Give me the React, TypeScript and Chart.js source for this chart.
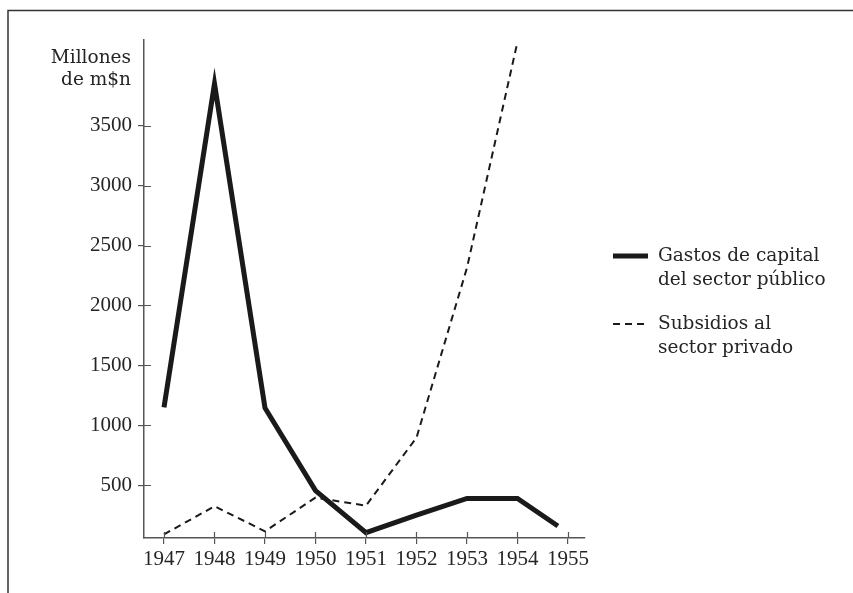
import React, { useEffect, useRef } from "react";
import { Chart, registerables } from "chart.js";

Chart.register(...registerables);

const years = [1947, 1948, 1949, 1950, 1951, 1952, 1953, 1954, 1955];
const publicYears = [1947, 1948, 1949, 1950, 1951, 1952, 1953, 1954, 1954.8];
const publicCapital = [1150, 3850, 1145, 455, 105, 250, 390, 390, 160];
const subsidyYears = [1947, 1948, 1949, 1950, 1951, 1952, 1953, 1954];
const privateSubsidies = [90, 325, 116, 397, 330, 897, 2315, 4200];
const yTicks = [500, 1000, 1500, 2000, 2500, 3000, 3500];
const yTitle = ["Millones", "de m$n"];
const legendItems = [
  { lines: ["Gastos de capital", "del sector público"], dashed: false },
  { lines: ["Subsidios al", "sector privado"], dashed: true },
];

const FONT = "'DejaVu Serif', serif";
const NUMFONT = "'Liberation Serif', serif";
const TEXT = "#252525";
const AXIS = "#555";

export default function App() {
  const ref = useRef<HTMLCanvasElement>(null);
  useEffect(() => {
    const canvas = ref.current!;
    const decor = {
      id: "decor",
      afterDraw(chart: any) {
        const ctx = chart.ctx;
        ctx.save();
        // frame
        ctx.strokeStyle = "#333";
        ctx.lineWidth = 1.5;
        ctx.beginPath();
        ctx.moveTo(8, 593);
        ctx.lineTo(8, 10.5);
        ctx.lineTo(853, 10.5);
        ctx.stroke();
        // inner tick parts
        const xs = chart.scales.x;
        const ys = chart.scales.y;
        const area = chart.chartArea;
        ctx.strokeStyle = AXIS;
        ctx.lineWidth = 1.2;
        ctx.beginPath();
        xs.ticks.forEach((t: any) => {
          const px = Math.round(xs.getPixelForValue(t.value)) + 0.5;
          ctx.moveTo(px, area.bottom);
          ctx.lineTo(px, area.bottom - 6);
        });
        ys.ticks.forEach((t: any) => {
          const py = Math.round(ys.getPixelForValue(t.value)) + 0.5;
          ctx.moveTo(area.left, py);
          ctx.lineTo(area.left + 7, py);
        });
        ctx.stroke();
        // y title
        ctx.fillStyle = TEXT;
        ctx.font = "18.5px " + FONT;
        ctx.textAlign = "right";
        ctx.textBaseline = "middle";
        ctx.fillText(yTitle[0], 131, 58);
        ctx.fillText(yTitle[1], 131, 80);
        // legend
        ctx.textAlign = "left";
        legendItems.forEach((item, i) => {
          const y0 = 256 + i * 68;
          ctx.strokeStyle = "#1a1a1a";
          if (item.dashed) {
            ctx.lineWidth = 2;
            ctx.setLineDash([7, 5]);
          } else {
            ctx.lineWidth = 5;
            ctx.setLineDash([]);
          }
          ctx.beginPath();
          ctx.moveTo(613, y0);
          ctx.lineTo(648, y0);
          ctx.stroke();
          ctx.setLineDash([]);
          item.lines.forEach((l, j) => {
            ctx.fillText(l, 658, y0 + j * 24);
          });
        });
        ctx.restore();
      },
    };
    const chart = new Chart(canvas, {
      type: "line",
      data: {
        datasets: [
          {
            label: "Gastos de capital del sector público",
            data: publicYears.map((x, i) => ({ x, y: publicCapital[i] })),
            borderColor: "#1a1a1a",
            borderWidth: 5,
            pointRadius: 0,
            tension: 0,
            borderJoinStyle: "miter",
          },
          {
            label: "Subsidios al sector privado",
            data: subsidyYears.map((x, i) => ({ x, y: privateSubsidies[i] })),
            borderColor: "#1a1a1a",
            borderWidth: 2,
            borderDash: [7, 5],
            pointRadius: 0,
            tension: 0,
          },
        ],
      },
      options: {
        animation: false,
        responsive: false,
        layout: { padding: { left: 0, right: 268, top: 40, bottom: 0 } },
        plugins: { legend: { display: false }, tooltip: { enabled: false } },
        scales: {
          x: {
            type: "linear",
            min: 1946.604,
            max: 1955.337,
            afterBuildTicks: (s: any) => {
              s.ticks = years.map((v) => ({ value: v }));
            },
            afterFit: (s: any) => {
              s.height = 55;
            },
            ticks: {
              callback: (v: any) => String(v),
              color: TEXT,
              font: { family: NUMFONT, size: 21 },
              padding: 3,
              autoSkip: false,
              maxRotation: 0,
            },
            grid: {
              drawOnChartArea: false,
              drawTicks: true,
              tickLength: 6,
              color: AXIS,
              lineWidth: 1.2,
            },
            border: { color: AXIS, width: 1.5 },
          },
          y: {
            type: "linear",
            min: 60,
            max: 4215,
            afterBuildTicks: (s: any) => {
              s.ticks = yTicks.map((v) => ({ value: v }));
            },
            afterFit: (s: any) => {
              s.width = 144;
            },
            ticks: {
              callback: (v: any) => String(v),
              color: TEXT,
              font: { family: NUMFONT, size: 21 },
              padding: 6,
            },
            grid: {
              drawOnChartArea: false,
              drawTicks: true,
              tickLength: 6,
              color: AXIS,
              lineWidth: 1.2,
            },
            border: { color: AXIS, width: 1.5 },
          },
        },
      },
      plugins: [decor],
    });
    return () => chart.destroy();
  }, []);
  return (
    <div style={{ position: "absolute", left: 0, top: 0, width: 853, height: 593, background: "#fff" }}>
      <canvas ref={ref} width={853} height={593} style={{ display: "block" }} />
    </div>
  );
}
